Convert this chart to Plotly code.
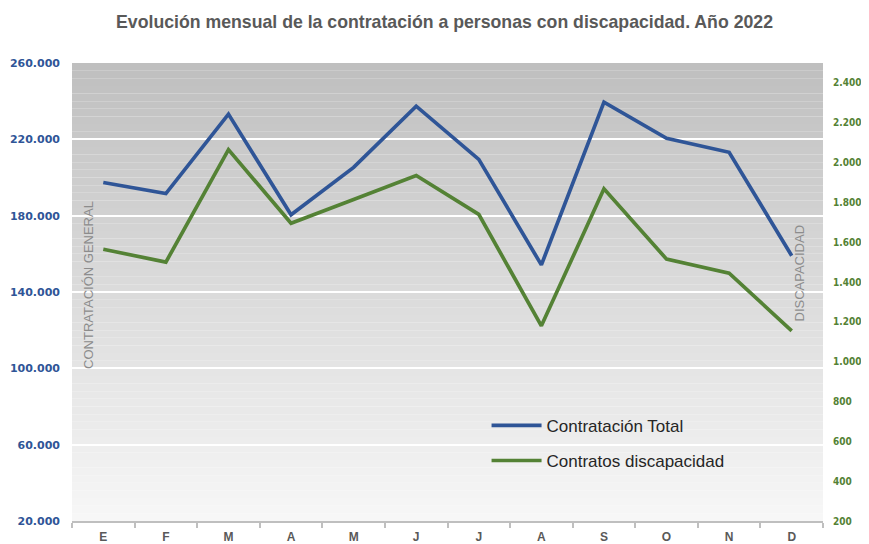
import plotly.graph_objects as go

meses = ["E", "F", "M", "A", "M", "J", "J", "A", "S", "O", "N", "D"]
contratacion_total = [197400, 191600, 233200, 180500, 205300, 237400,
                      209500, 154200, 239500, 220500, 213200, 159000]
contratos_discapacidad = [1565, 1500, 2065, 1695, 1815, 1935,
                          1740, 1180, 1868, 1515, 1445, 1155]
left_ticks = [20000, 60000, 100000, 140000, 180000, 220000, 260000]
right_ticks = [200, 400, 600, 800, 1000, 1200, 1400, 1600, 1800, 2000, 2200, 2400]

idx = list(range(len(meses)))

fig = go.Figure()
fig.add_trace(go.Scatter(
    x=idx, y=contratacion_total, name="Contratación Total",
    mode="lines", line=dict(color="#2F5597", width=3.7),
    legendgroup="a", yaxis="y"))
fig.add_trace(go.Scatter(
    x=idx, y=contratos_discapacidad, name="Contratos discapacidad",
    mode="lines", line=dict(color="#548235", width=3.7),
    legendgroup="b", yaxis="y2"))

# gradient background of plot area
shapes = []
n = 60
top = (191, 191, 191)
bot = (247, 247, 247)
for i in range(n):
    t = (i + 0.5) / n  # 0 bottom .. 1 top
    c = tuple(int(round(bot[k] + (top[k] - bot[k]) * t)) for k in range(3))
    shapes.append(dict(type="rect", xref="x domain", yref="y domain",
                       x0=0, x1=1, y0=i / n, y1=(i + 1) / n,
                       fillcolor="rgb(%d,%d,%d)" % c, line=dict(width=0),
                       layer="below"))

tick_font = "DejaVu Sans, Liberation Sans, Arial"
tick_font_r = "DejaVu Sans Condensed, DejaVu Sans, Liberation Sans, Arial"

fig.update_layout(
    width=861, height=536,
    margin=dict(l=64, r=46, t=55, b=23, autoexpand=False),
    paper_bgcolor="white", plot_bgcolor="white",
    separators=",.",
    shapes=shapes,
    title=dict(text="<b>Evolución mensual de la contratación a personas con discapacidad. Año 2022</b>",
               x=0.507, xanchor="center", y=0.974, yanchor="middle",
               font=dict(family="Liberation Sans, Arial", size=17.7, color="#595959")),
    xaxis=dict(range=[-0.5, 11.5], tickvals=idx, ticktext=meses,
               showgrid=False, zeroline=False, automargin=False,
               showline=True, linecolor="#BFBFBF", linewidth=1.5,
               ticks="", ticklabelstandoff=4,
               minor=dict(tickvals=[i - 0.5 for i in range(13)], ticks="outside",
                          ticklen=5, tickcolor="#BFBFBF", tickwidth=1.5, showgrid=False),
               tickfont=dict(family="Liberation Sans, Arial", size=12, color="#595959", weight="bold")),
    yaxis=dict(range=[20000, 260000], tickvals=left_ticks, tickformat=",d",
               showgrid=True, gridcolor="white", gridwidth=1.5, zeroline=False,
               showline=False, ticks="", ticklabelstandoff=11, automargin=False,
               tickfont=dict(family=tick_font, size=11, color="#2F5597", weight="bold")),
    yaxis2=dict(range=[200, 2500], tickvals=right_ticks, tickformat=",d",
                overlaying="y", side="right", showgrid=False, zeroline=False,
                showline=False, ticks="", ticklabelstandoff=9, automargin=False,
                tickfont=dict(family=tick_font_r, size=10, color="#548235", weight="bold")),
    legend=dict(x=0.552, y=0.247, xanchor="left", yanchor="top",
                bgcolor="rgba(0,0,0,0)", tracegroupgap=10, itemwidth=50,
                font=dict(family="Liberation Sans, Arial", size=17, color="#262626")),
    annotations=[
        dict(text="CONTRATACIÓN GENERAL", xref="paper", yref="paper",
             x=0.021, y=0.515, xanchor="center", yanchor="middle",
             textangle=-90, showarrow=False,
             font=dict(family="Liberation Sans, Arial", size=13, color="#8C8C8C")),
        dict(text="DISCAPACIDAD", xref="paper", yref="paper",
             x=0.969, y=0.542, xanchor="center", yanchor="middle",
             textangle=-90, showarrow=False,
             font=dict(family="Liberation Sans, Arial", size=13, color="#8C8C8C")),
    ],
)

fig.write_html("out.html")
